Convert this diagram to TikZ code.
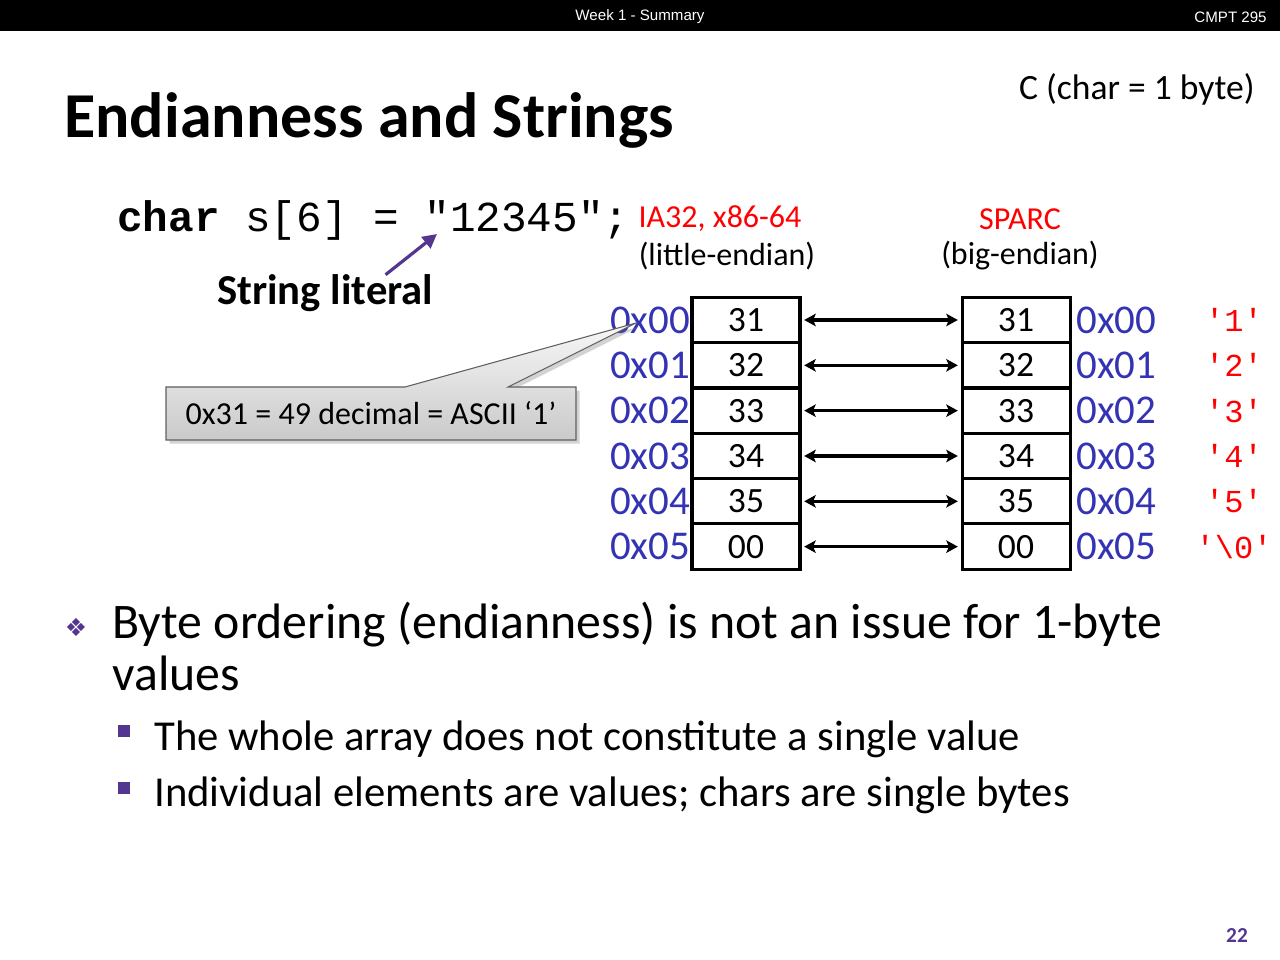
\documentclass[tikz,border=0pt]{standalone}
\usepackage{fontspec}
\setmainfont{Carlito}
\setmonofont{Liberation Mono}
\newfontfamily\headfont{Liberation Sans}
\newfontfamily\symfont{DejaVu Sans}
\usetikzlibrary{arrows.meta}
\usetikzlibrary{shadows}
\usetikzlibrary{positioning}
\definecolor{addrblue}{RGB}{51,51,179}
\definecolor{slidepurple}{RGB}{84,54,145}
\definecolor{charred}{RGB}{255,0,0}
\newcommand{\fs}[1]{\fontsize{#1}{1.2\dimexpr #1pt\relax}\selectfont}

\begin{document}
\begin{tikzpicture}[x=0.5625pt,y=-0.5625pt,
        cell/.style={draw,line width=1.7pt,minimum width=60.75pt,minimum height=25.5pt,inner sep=0pt,font=\fs{20}},
        addr/.style={text=addrblue,inner sep=0pt,font=\fs{23}},
        chr/.style={text=charred,inner sep=0pt,font=\ttfamily\fs{18}},
        swap/.style={{Stealth[length=6.5pt,width=7pt,inset=1.5pt]}-{Stealth[length=6.5pt,width=7pt,inset=1.5pt]},line width=1.8pt,shorten >=1.5pt,shorten <=1.5pt},
        body/.style={anchor=base west,inner sep=0pt},
        ]
    
    \useasboundingbox (0,0) rectangle (1280,960);
    
    % header bar
    \fill[black] (0,0) rectangle (1280,31);
    \node[text=white,font=\headfont\fs{8.5}] (week) at (640,17) {Week 1 - Summary};
    \node[text=white,font=\headfont\fs{8.5},anchor=east,inner sep=0pt] (course) at (1267,17) {CMPT 295};
    
    \node[body,font=\bfseries\fs{36}] (title) at (64,138) {Endianness and Strings};
    \node[body,anchor=base east,font=\fs{20}] (lang) at (1255,100) {C (char = 1 byte)};
    
    % declaration and literal
    \node[body,font=\ttfamily\fs{24}] (code) at (117,232) {\textbf{char} s[6] = "12345";};
    \coordinate (quote) at (437,234);
    \node[body,font=\bfseries\fs{24}] (lit) at (217,305) {String literal};
    \draw[slidepurple,line width=1.8pt,-{Triangle[length=8pt,width=8pt]}] ([xshift=-27pt]lit.north east) -- (quote);
    
    \node[text=charred,font=\fs{18}] (little) at (720,219) {IA32, x86-64};
    \node[font=\fs{18}] (littlenote) at (727,256) {(little-endian)};
    \node[text=charred,font=\fs{18}] (big) at (1020,219) {SPARC};
    \node[font=\fs{18}] (bignote) at (1020,256) {(big-endian)};
    
    % memory
    \foreach \i/\v/\c in {0/31/1,1/32/2,2/33/3,3/34/4,4/35/5,5/00/\textbackslash0}
    {
        \node[cell] (L\i) at (746,320+45.33*\i) {\v};
        \node[cell] (R\i) at (1016,320+45.33*\i) {\v};
        \node[addr,anchor=east] (la\i) at (L\i.west) {0x0\i};
        \node[addr,anchor=west,xshift=2.5pt] (ra\i) at (R\i.east) {0x0\i};
        \node[chr] (ch\i) at (1234,320+45.33*\i) {'\c'};
        \draw[swap] (L\i) -- (R\i);
    }
    
    % callout
    \path[draw=gray!75!black,line width=0.6pt,top color=gray!6,bottom color=gray!42,
        drop shadow={shadow xshift=2pt,shadow yshift=-2pt,opacity=0.35}]
        (166,387) -- (405,387) -- (636,323) -- (508,387) -- (576,387) -- (576,440) -- (166,440) -- cycle;
    \node[font=\fs{18}] (note) at (371,413) {0x31 = 49 decimal = ASCII ‘1’};
    
    % bullets
    \node[text=slidepurple,font=\symfont\fs{14}] (dot1) at (76,627) {❖};
    \node[body,font=\fs{28}] (b1) at (112,638) {Byte ordering (endianness) is not an issue for 1-byte};
    \node[body,font=\fs{28}] (b1v) at (112,690) {values};
    \node[fill=slidepurple,minimum size=6.5pt,inner sep=0pt] (sq1) at (124,731) {};
    \node[body,font=\fs{24}] (b2) at (154,750) {The whole array does not constitute a single value};
    \node[fill=slidepurple,minimum size=6.5pt,inner sep=0pt] (sq2) at (124,788) {};
    \node[body,font=\fs{24}] (b3) at (154,806) {Individual elements are values; chars are single bytes};
    
    \node[text=slidepurple,font=\bfseries\fs{12}] (page) at (1237,935) {22};
\end{tikzpicture}
\end{document}
